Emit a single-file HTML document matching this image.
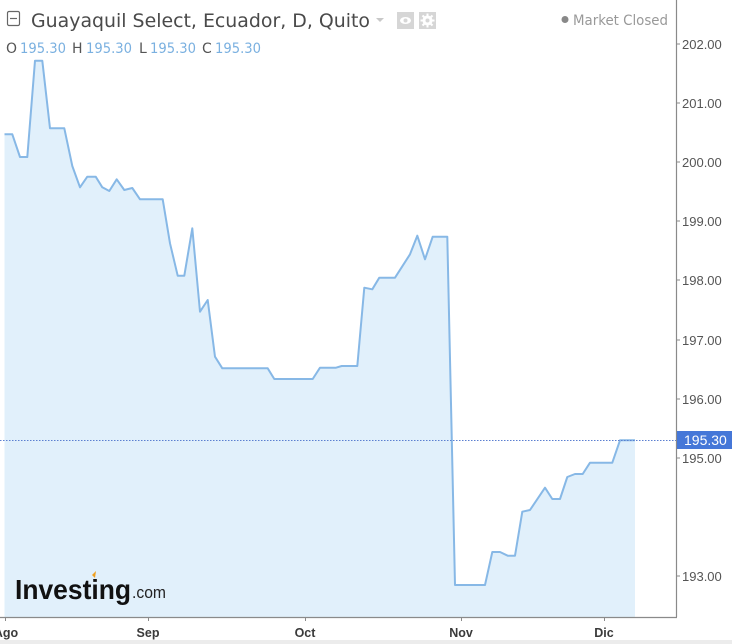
<!DOCTYPE html>
<html><head><meta charset="utf-8"><style>
html,body{margin:0;padding:0;background:#fff;}
svg{display:block;}
</style></head><body>
<svg width="732" height="644" viewBox="0 0 732 644" xmlns="http://www.w3.org/2000/svg">
<rect width="732" height="644" fill="#fff"/>
<polygon fill="#e1f0fb" points="4.5,617 4.5,134.3 12.3,134.3 20,157 27.3,157 35,60.7 42.3,60.7 50,128.3 64.3,128.3 72.3,166 80,187.3 87.3,176.7 95.7,176.7 102.3,187.3 109.3,191 116.7,179.3 124.3,190 132.3,188 140,199.3 162.7,199.3 170,243.3 177.7,275.7 184.3,275.7 192.3,228.3 200,311.7 207.7,300 215,356.7 222.3,368.3 267.7,368.3 274.3,379 312.7,379 320,367.7 336,367.7 341.7,366 357.3,366 364.3,287.7 372.3,289.3 379.3,277.7 395,277.7 410,254.3 417.3,235.7 425,259.3 432.7,236.7 447.3,236.7 455,585 485,585 492.3,552 500,552 507.7,555.7 515,555.7 522.3,511.7 530,510 545,487.7 552.3,499 560,499 567.3,477 575,474 582.7,474 590,462.7 612.3,462.7 620,440.3 635,440.3 635,617"/>
<polyline fill="none" stroke="#87b8e6" stroke-width="2" stroke-linejoin="round" points="4.5,134.3 12.3,134.3 20,157 27.3,157 35,60.7 42.3,60.7 50,128.3 64.3,128.3 72.3,166 80,187.3 87.3,176.7 95.7,176.7 102.3,187.3 109.3,191 116.7,179.3 124.3,190 132.3,188 140,199.3 162.7,199.3 170,243.3 177.7,275.7 184.3,275.7 192.3,228.3 200,311.7 207.7,300 215,356.7 222.3,368.3 267.7,368.3 274.3,379 312.7,379 320,367.7 336,367.7 341.7,366 357.3,366 364.3,287.7 372.3,289.3 379.3,277.7 395,277.7 410,254.3 417.3,235.7 425,259.3 432.7,236.7 447.3,236.7 455,585 485,585 492.3,552 500,552 507.7,555.7 515,555.7 522.3,511.7 530,510 545,487.7 552.3,499 560,499 567.3,477 575,474 582.7,474 590,462.7 612.3,462.7 620,440.3 635,440.3"/>
<line x1="0" y1="440.5" x2="676" y2="440.5" stroke="#5b7fd0" stroke-width="1" stroke-dasharray="1.5,1.5"/>
<line x1="676.5" y1="0" x2="676.5" y2="617" stroke="#8a8a8a" stroke-width="1.2"/>
<line x1="0" y1="617.5" x2="677" y2="617.5" stroke="#8a8a8a" stroke-width="1.2"/>
<g stroke="#8a8a8a" stroke-width="1">
<line x1="676" y1="44" x2="680" y2="44"/>
<line x1="676" y1="103" x2="680" y2="103"/>
<line x1="676" y1="162" x2="680" y2="162"/>
<line x1="676" y1="221" x2="680" y2="221"/>
<line x1="676" y1="280" x2="680" y2="280"/>
<line x1="676" y1="340" x2="680" y2="340"/>
<line x1="676" y1="399" x2="680" y2="399"/>
<line x1="676" y1="458" x2="680" y2="458"/>
<line x1="676" y1="576" x2="680" y2="576"/>
</g>
<g font-size="13" fill="#555" style="font-family:'Liberation Sans',sans-serif">
<text x="682" y="49">202.00</text>
<text x="682" y="108">201.00</text>
<text x="682" y="167">200.00</text>
<text x="682" y="226">199.00</text>
<text x="682" y="285">198.00</text>
<text x="682" y="345">197.00</text>
<text x="682" y="404">196.00</text>
<text x="682" y="463">195.00</text>
<text x="682" y="581">193.00</text>
</g>
<rect x="677" y="431" width="55" height="18" fill="#4577d8"/>
<text x="684" y="445" font-size="14" fill="#fff" style="font-family:'Liberation Sans',sans-serif">195.30</text>
<g stroke="#8a8a8a" stroke-width="1">
<line x1="5.5" y1="617" x2="5.5" y2="621"/>
<line x1="148.5" y1="617" x2="148.5" y2="621"/>
<line x1="305.5" y1="617" x2="305.5" y2="621"/>
<line x1="461.5" y1="617" x2="461.5" y2="621"/>
<line x1="604.5" y1="617" x2="604.5" y2="621"/>
</g>
<g font-size="12.5" font-weight="bold" fill="#3a3a3a" text-anchor="middle" style="font-family:'Liberation Sans',sans-serif">
<text x="6" y="637">Ago</text>
<text x="148" y="637">Sep</text>
<text x="305" y="637">Oct</text>
<text x="461" y="637">Nov</text>
<text x="604" y="637">Dic</text>
</g>
<rect x="0" y="640" width="732" height="4" fill="#ececec"/>
<text x="15" y="599" font-size="28" font-weight="bold" fill="#111" textLength="116" lengthAdjust="spacingAndGlyphs" style="font-family:'Liberation Sans',sans-serif">Investing</text>
<text x="132" y="598" font-size="17" fill="#222" textLength="34" lengthAdjust="spacingAndGlyphs" style="font-family:'Liberation Sans',sans-serif">.com</text>
<path d="M92,575 L96,571 L95,578 Z" fill="#f0a020"/>
<rect x="7.5" y="11.5" width="12" height="14" rx="1.5" fill="none" stroke="#666" stroke-width="1.2"/>
<line x1="10" y1="18.5" x2="17" y2="18.5" stroke="#666" stroke-width="1.2"/>
<text x="31" y="27" font-size="19" fill="#4a4a4a" textLength="339" lengthAdjust="spacingAndGlyphs" style="font-family:'DejaVu Sans','Liberation Sans',sans-serif">Guayaquil Select, Ecuador, D, Quito</text>
<path d="M376,18 L384,18 L380,22 Z" fill="#c8c8c8"/>
<rect x="397" y="12" width="17" height="17" fill="#d6d6d6"/>
<ellipse cx="405.5" cy="20.5" rx="5.5" ry="3.5" fill="#fff"/>
<circle cx="405.5" cy="20.5" r="2" fill="#d6d6d6"/>
<rect x="419" y="12" width="17" height="17" fill="#d6d6d6"/>
<circle cx="427.5" cy="20.5" r="5" fill="#fff"/>
<g stroke="#fff" stroke-width="2">
<line x1="427.5" y1="13.5" x2="427.5" y2="27.5"/>
<line x1="420.5" y1="20.5" x2="434.5" y2="20.5"/>
<line x1="422.5" y1="15.5" x2="432.5" y2="25.5"/>
<line x1="432.5" y1="15.5" x2="422.5" y2="25.5"/>
</g>
<circle cx="427.5" cy="20.5" r="2" fill="#d6d6d6"/>
<g font-size="14" style="font-family:'DejaVu Sans','Liberation Sans',sans-serif">
<text x="6" y="53" fill="#555">O</text>
<text x="20" y="53" fill="#7ab0e0" textLength="46" lengthAdjust="spacingAndGlyphs">195.30</text>
<text x="72" y="53" fill="#555">H</text>
<text x="86" y="53" fill="#7ab0e0" textLength="46" lengthAdjust="spacingAndGlyphs">195.30</text>
<text x="139" y="53" fill="#555">L</text>
<text x="150" y="53" fill="#7ab0e0" textLength="46" lengthAdjust="spacingAndGlyphs">195.30</text>
<text x="202" y="53" fill="#555">C</text>
<text x="215" y="53" fill="#7ab0e0" textLength="46" lengthAdjust="spacingAndGlyphs">195.30</text>
</g>
<circle cx="565" cy="19.5" r="3.5" fill="#888"/>
<text x="573" y="25" font-size="14" fill="#999" textLength="95" lengthAdjust="spacingAndGlyphs" style="font-family:'DejaVu Sans','Liberation Sans',sans-serif">Market Closed</text>
</svg>
</body></html>
